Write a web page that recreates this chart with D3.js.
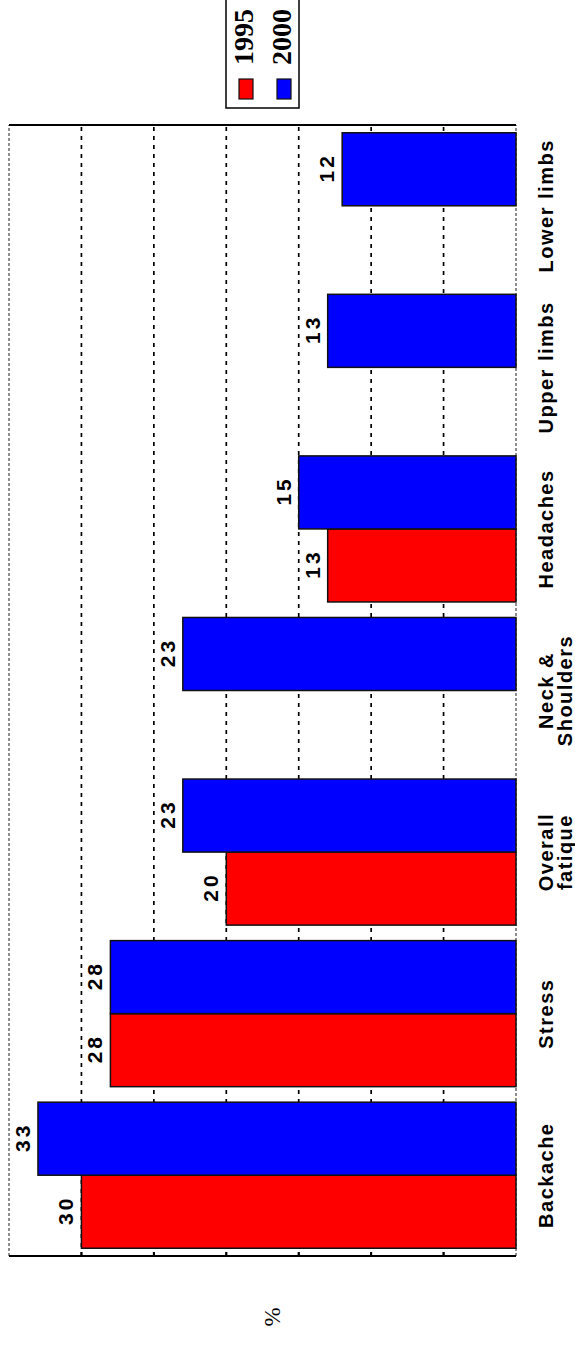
<!DOCTYPE html>
<html>
<head>
<meta charset="utf-8">
<script src="https://d3js.org/d3.v7.min.js"></script>
<style>
  body { margin: 0; background: #fff; }
  svg { display: block; }
</style>
</head>
<body>
<div id="chart"></div>
<script>
// data
var categories = ["Backache", "Stress", "Overall fatique", "Neck & Shoulders", "Headaches", "Upper limbs", "Lower limbs"];
var labelLines = [["Backache"], ["Stress"], ["Overall", "fatique"], ["Neck &", "Shoulders"], ["Headaches"], ["Upper limbs"], ["Lower limbs"]];
var years = ["1995", "2000"];
var values1995 = [30, 28, 20, null, 13, null, null];
var values2000 = [33, 28, 23, 23, 15, 13, 12];
var gridTicks = [5, 10, 15, 20, 25, 30];
var colors = ["#ff0000", "#0000ff"];

// page is 575 x 1346, chart is drawn landscape then turned a quarter left
var pageW = 575, pageH = 1346;

var svg = d3.select("#chart")
  .append("svg")
  .attr("width", pageW)
  .attr("height", pageH);

var g = svg.append("g")
  .attr("transform", "translate(0," + pageH + ") rotate(-90)");

// plot box in the turned frame
var plotLeft = 90, plotRight = 1221, plotTop = 9, plotBottom = 516;

var x = d3.scaleBand()
  .domain(categories)
  .range([plotLeft, plotRight])
  .paddingInner(0.096)
  .paddingOuter(0.048);

var xSub = d3.scaleBand()
  .domain(years)
  .range([0, x.bandwidth()]);

var y = d3.scaleLinear()
  .domain([0, 35])
  .range([plotBottom, plotTop]);

// dotted grid
g.append("g")
  .selectAll("line")
  .data(gridTicks)
  .enter()
  .append("line")
  .attr("x1", plotLeft)
  .attr("x2", plotRight)
  .attr("y1", function (d) { return y(d); })
  .attr("y2", function (d) { return y(d); })
  .attr("stroke", "#000")
  .attr("stroke-width", 1.7)
  .attr("stroke-dasharray", "4,5");

// frame: long sides dashed thin, short sides solid
g.append("line")
  .attr("x1", plotLeft).attr("x2", plotRight)
  .attr("y1", y(35)).attr("y2", y(35))
  .attr("stroke", "#444").attr("stroke-width", 1.2)
  .attr("stroke-dasharray", "3,2");
g.append("line")
  .attr("x1", plotLeft).attr("x2", plotRight)
  .attr("y1", y(0)).attr("y2", y(0))
  .attr("stroke", "#444").attr("stroke-width", 1.2)
  .attr("stroke-dasharray", "3,2");
g.append("line")
  .attr("x1", plotLeft).attr("x2", plotLeft)
  .attr("y1", y(35)).attr("y2", y(0))
  .attr("stroke", "#000").attr("stroke-width", 2);
g.append("line")
  .attr("x1", plotRight).attr("x2", plotRight)
  .attr("y1", y(35)).attr("y2", y(0))
  .attr("stroke", "#000").attr("stroke-width", 2);

// small ticks on the short sides
g.append("g")
  .selectAll("line")
  .data(gridTicks)
  .enter()
  .append("line")
  .attr("x1", plotLeft)
  .attr("x2", plotLeft + 4)
  .attr("y1", function (d) { return y(d); })
  .attr("y2", function (d) { return y(d); })
  .attr("stroke", "#000")
  .attr("stroke-width", 2);

// bars
var rows = [];
categories.forEach(function (c, i) {
  rows.push({ cat: c, year: "1995", value: values1995[i] });
  rows.push({ cat: c, year: "2000", value: values2000[i] });
});
rows = rows.filter(function (d) { return d.value != null; });

g.append("g")
  .selectAll("rect")
  .data(rows)
  .enter()
  .append("rect")
  .attr("x", function (d) { return x(d.cat) + xSub(d.year); })
  .attr("y", function (d) { return y(d.value); })
  .attr("width", xSub.bandwidth())
  .attr("height", function (d) { return y(0) - y(d.value); })
  .attr("fill", function (d) { return colors[years.indexOf(d.year)]; })
  .attr("stroke", "#111")
  .attr("stroke-width", 1.5);

// value labels
g.append("g")
  .selectAll("text")
  .data(rows)
  .enter()
  .append("text")
  .attr("x", function (d) { return x(d.cat) + xSub(d.year) + xSub.bandwidth() / 2 + 1.5; })
  .attr("y", function (d) { return y(d.value) - 8; })
  .attr("text-anchor", "middle")
  .style("font-family", "Arial, 'Liberation Sans', sans-serif")
  .style("font-weight", "bold")
  .style("font-size", "21px")
  .style("letter-spacing", "3px")
  .text(function (d) { return d.value; });

// category labels
var catLabels = g.append("g")
  .selectAll("text")
  .data(categories)
  .enter()
  .append("text")
  .attr("text-anchor", "middle")
  .style("font-family", "Arial, 'Liberation Sans', sans-serif")
  .style("font-weight", "bold")
  .style("font-size", "20px")
  .style("letter-spacing", "1.5px");

catLabels.each(function (c, i) {
  var lines = labelLines[i];
  var t = d3.select(this);
  lines.forEach(function (ln, k) {
    t.append("tspan")
      .attr("x", x(c) + x.bandwidth() / 2)
      .attr("y", plotBottom + 37 + k * 19)
      .text(ln);
  });
});

// axis title
g.append("text")
  .attr("x", 29)
  .attr("y", 280)
  .attr("text-anchor", "middle")
  .style("font-family", "'Times New Roman', 'Liberation Serif', serif")
  .style("font-size", "23px")
  .text("%");

// legend
var legend = g.append("g");
legend.append("rect")
  .attr("x", 1238)
  .attr("y", 226)
  .attr("width", 120)
  .attr("height", 73)
  .attr("fill", "#fff")
  .attr("stroke", "#000")
  .attr("stroke-width", 1.5);

legend.selectAll("rect.sw")
  .data(years)
  .enter()
  .append("rect")
  .attr("class", "sw")
  .attr("x", 1247)
  .attr("y", function (d, i) { return 239 + i * 38; })
  .attr("width", 20)
  .attr("height", 14)
  .attr("fill", function (d, i) { return colors[i]; })
  .attr("stroke", "#111")
  .attr("stroke-width", 1.2);

legend.selectAll("text")
  .data(years)
  .enter()
  .append("text")
  .attr("x", 1281)
  .attr("y", function (d, i) { return 253 + i * 38; })
  .style("font-family", "'Times New Roman', 'Liberation Serif', serif")
  .style("font-weight", "bold")
  .style("font-size", "28px")
  .text(function (d) { return d; });
</script>
</body>
</html>
